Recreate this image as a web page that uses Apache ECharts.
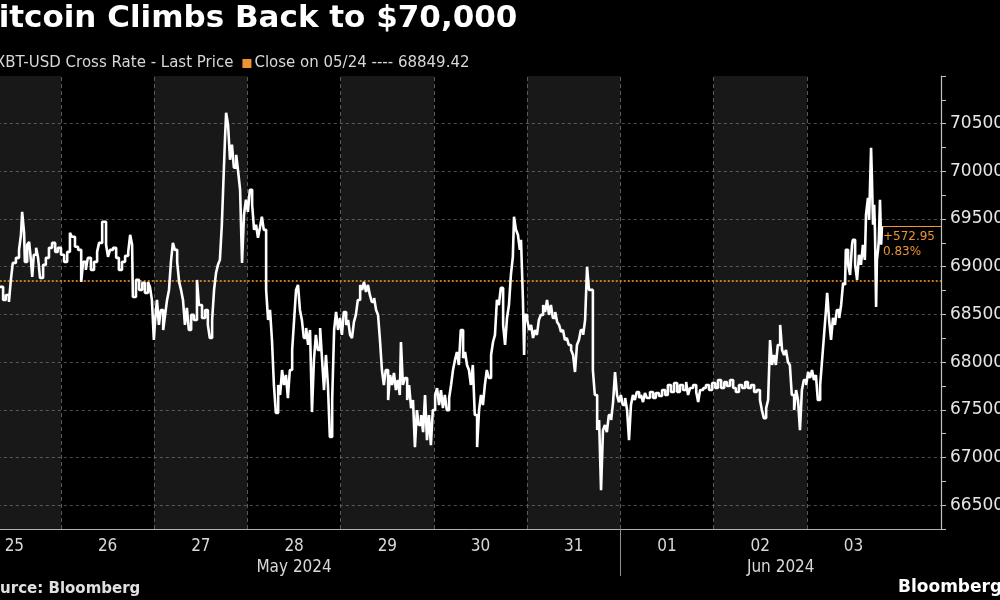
<!DOCTYPE html>
<html>
<head>
<meta charset="utf-8">
<script src="https://cdn.jsdelivr.net/npm/echarts@6.0.0/dist/echarts.min.js"></script>
<style>
html,body{margin:0;padding:0;background:#000;}
#chart{width:1000px;height:600px;}
</style>
</head>
<body>
<div id="chart"></div>
<script>
// Hours since 2024-05-25 00:00
const hours = [
8.3,9.1,9.8,10.6,11.1,11.6,12.4,13.2,13.7,14.0,14.5,14.7,15.3,15.8,16.3,16.6,17.0,17.6,18.1,18.6,19.4,20.1,20.9,21.7,22.5,23.2,24.0,24.8,25.6,26.3,26.8,27.6,28.4,29.2,29.7,30.4,30.9,31.7,32.5,33.3,33.8,34.6,35.1,35.6,36.1,36.6,37.4,38.2,38.9,39.7,40.5,41.3,41.8,42.3,42.5,43.3,44.1,44.9,45.6,46.4,
46.9,47.4,47.9,48.2,48.7,49.2,49.7,50.3,50.8,51.3,51.8,52.3,52.8,53.3,53.9,54.4,54.9,55.4,55.9,56.4,56.9,57.5,58.2,59.0,59.5,60.3,61.1,61.8,62.3,62.9,63.4,63.9,64.4,64.9,65.4,65.7,66.2,66.5,67.0,67.5,68.0,68.5,69.1,69.6,70.1,70.6,71.1,71.6,72.1,72.6,73.2,73.7,74.2,74.7,75.2,75.7,76.2,76.8,77.3,77.8,78.3,78.8,79.3,79.9,80.4,80.9,81.4,81.9,82.4,82.9,
83.5,84.0,84.5,85.0,85.5,86.0,86.5,87.1,87.6,88.1,88.6,89.1,89.6,90.1,90.7,91.2,91.7,92.2,92.7,93.2,93.8,94.3,94.8,95.3,95.8,96.3,96.8,97.4,97.9,98.4,98.9,99.4,99.9,100.4,101.0,101.5,102.0,102.5,103.0,103.5,104.0,104.6,105.1,105.6,106.1,106.6,107.1,107.6,108.2,108.7,109.2,109.7,110.2,110.7,111.2,111.5,112.0,112.5,113.1,113.6,114.1,114.6,115.1,115.6,116.1,116.7,117.2,117.7,118.2,118.7,119.2,119.7,120.3,
120.8,121.3,121.8,122.3,122.8,123.3,123.9,124.4,124.9,125.4,125.9,126.4,126.9,127.5,128.0,128.5,129.0,129.5,130.0,130.5,131.1,131.6,132.1,132.6,133.1,133.6,134.1,134.7,135.2,135.7,136.2,136.7,137.2,137.8,138.3,138.8,139.3,139.8,140.3,140.6,141.1,141.6,142.1,142.4,142.9,143.2,143.4,144.0,144.5,145.0,145.5,146.0,146.5,147.0,147.5,148.1,148.6,149.1,149.6,150.1,150.6,151.2,151.7,152.2,152.7,153.2,153.7,154.2,154.7,155.3,155.8,156.3,156.8,157.3,157.8,
158.4,158.9,159.4,159.9,160.4,160.9,161.4,162.0,162.5,163.0,163.5,164.0,164.5,165.0,165.6,166.1,166.6,167.1,167.6,168.1,168.6,169.2,169.7,170.2,170.7,171.2,171.7,172.2,172.8,173.3,173.8,174.3,174.8,175.6,176.4,177.1,177.9,178.7,179.5,180.2,181.0,181.8,182.6,183.3,184.1,184.9,185.4,185.9,186.7,187.5,188.0,188.5,189.3,190.0,190.8,191.6,192.4,193.1,193.9,194.7,195.4,196.2,197.0,
197.7,198.5,199.3,200.1,200.8,201.6,202.4,203.1,203.9,204.4,204.9,205.5,206.0,206.5,207.0,207.5,208.0,208.5,209.1,209.6,210.1,210.6,211.1,211.6,212.1,212.7,213.2,213.7,214.2,214.7,215.2,215.8,216.3,216.8,217.3,217.8,218.3,218.8,219.4,219.9,220.4,220.9,221.2,221.7,222.2,222.7,223.2,223.7,224.3,224.8,225.3,225.8,226.0,226.6,227.1,227.6,227.8,228.4,228.9,229.4,229.9,230.4,230.9,231.2,231.7,232.0,232.5,232.7,233.0,233.3,233.5,233.8,234.0,234.3,234.5,234.8,235.1,235.3
];
const prices = [
68789,68652,68704,68631,68862,69040,69093,69177,69335,69576,69356,69051,69230,69261,69051,68894,69125,69198,69093,68883,69020,69093,69198,69250,69156,69198,69125,69051,69156,69356,69314,69209,69177,68841,69051,68967,69093,68967,69051,69156,69250,69471,69471,69230,69104,69177,69198,69093,68967,69051,69114,69156,69335,69230,68683,68862,68757,68831,68726,68841,
68789,68652,68232,68421,68652,68390,68547,68337,68495,68652,68757,69051,69250,69177,69051,68841,68757,68652,68390,68568,68337,68495,68442,68862,68599,68463,68547,68390,68253,68442,68757,68935,69020,69072,69440,69776,70332,70615,70489,70122,70280,70038,70174,69996,69807,69040,69545,69702,69576,69807,69650,69387,69440,69303,69408,69524,69387,68757,68442,68547,68232,67760,67466,67760,67655,67917,67760,67865,67623,67917,
68127,68442,68757,68809,68547,68442,68253,68358,68180,68337,67476,68022,68285,68127,68358,68022,67707,68075,67760,67214,67602,68337,68526,68337,68463,68285,68526,68390,68442,68285,68253,68421,68495,68652,68809,68757,68841,68736,68809,68704,68631,68673,68547,68495,68232,67917,67760,67917,67602,67865,67760,67886,67707,67812,67655,68211,67760,67833,67602,67760,67518,67602,67109,67497,67340,67445,67266,67655,67182,67445,67130,67497,67655,
67728,67550,67707,67518,67655,67497,67623,67760,67917,68022,68106,67970,68337,68043,68106,67970,67917,67760,67970,67445,67109,67497,67655,67550,67760,67917,67833,68075,68211,68285,68652,68599,68778,68390,68180,68463,68599,68914,69104,69524,69387,69335,69177,69282,68652,68075,68495,68442,68337,68390,68253,68337,68285,68442,68495,68599,68526,68652,68495,68599,68463,68526,68421,68390,68316,68337,68232,68253,68180,68127,68075,67896,68180,68232,68337,
68285,68442,68998,68757,68757,67917,67655,67287,67392,66657,67287,67340,67266,67445,67392,67581,67896,67655,67581,67655,67550,67623,67497,67182,67550,67655,67602,67686,67623,67655,67581,67676,67623,67686,67623,67676,67644,67707,67655,67760,67686,67781,67686,67760,67707,67791,67655,67728,67760,67686,67581,67707,67728,67760,67707,67781,67728,67812,67728,67791,67749,67812,67728,
67686,67760,67728,67791,67728,67760,67686,67707,67602,67497,67413,67518,67602,68232,67970,68075,67970,68180,68390,68127,68075,68127,68001,67970,67655,67497,67707,67602,67287,67707,67812,67760,67896,67833,67917,67812,67865,67602,67760,68022,68285,68547,68726,68442,68232,68463,68390,68547,68463,68599,68831,68809,69177,69020,68914,69230,69282,69020,68862,69125,69020,69230,69072,69545,69723,69492,70248,69965,69440,69650,69387,68579,69072,69177,69282,69702,69230,69422.37
];
const dayLabels = ['25','26','27','28','29','30','31','01','02','03'];
const monthLabels = ['May 2024','Jun 2024'];
const yLabelValues = [66500,67000,67500,68000,68500,69000,69500,70000,70500];
const closePrice = 68849.42;
const changeText = '+572.95';
const changePct = '0.83%';
const seriesName = 'XBT-USD Cross Rate - Last Price';
const closeName = 'Close on 05/24 ---- 68849.42';

const X_MIN = 0, X_MAX = 250.5;
const ORANGE = '#ee9430';
const lastH = hours[hours.length - 1];
const lastP = prices[prices.length - 1];

const dayCenters = dayLabels.map((_, i) => 12 + 24 * i);
const monthBounds = [[0, 168], [168, X_MAX]];
const monthCenters = monthBounds.map(b => (b[0] + b[1]) / 2);
const shadedBands = [];
for (let i = 0; i < 9; i += 2) shadedBands.push([{xAxis: 24 * i}, {xAxis: 24 * (i + 1)}]);
const dayLines = [];
for (let i = 1; i <= 9; i++) dayLines.push({xAxis: 24 * i, lineStyle: {type: [4, 3], color: '#5a5a5a', width: 1}});

const chart = echarts.init(document.getElementById('chart'));
const FONT = 'DejaVu Sans';
chart.setOption({
  backgroundColor: '#000',
  animation: false,
  title: [
    {text: 'Bitcoin Climbs Back to $70,000', left: -25, top: 3, padding: 0,
     textStyle: {color: '#fff', fontSize: 31, fontWeight: 'bold', fontFamily: FONT}},
    {text: 'Source: Bloomberg', left: -21, top: 582, padding: 0,
     textStyle: {color: '#e0e0e0', fontSize: 15, fontWeight: 'bold', fontFamily: FONT}},
    {text: 'Bloomberg', left: 898, top: 579, padding: 0,
     textStyle: {color: '#fff', fontSize: 17, fontWeight: 'bold', fontFamily: FONT}}
  ],
  legend: {
    left: -17, top: 56, padding: 0, itemGap: 9, itemWidth: 9, itemHeight: 9,
    icon: 'rect', selectedMode: false,
    textStyle: {color: '#d8d8d8', fontSize: 15, fontFamily: FONT, padding: [0, 0, 0, -2]},
    data: [{name: seriesName, itemStyle: {color: '#fff'}}, {name: closeName, itemStyle: {color: ORANGE}}]
  },
  grid: {left: -32.25, right: 59, top: 76, bottom: 71, containLabel: false, outerBoundsMode: 'none'},
  xAxis: [
    {type: 'value', min: X_MIN, max: X_MAX, position: 'bottom',
     axisLine: {show: true, onZero: false, lineStyle: {color: '#b0b0b0', width: 1}},
     axisTick: {show: true, customValues: [168], length: 47, lineStyle: {color: '#909090'}},
     axisLabel: {customValues: dayCenters, formatter: v => dayLabels[Math.round((v - 12) / 24)],
       color: '#d8d8d8', fontSize: 17, fontFamily: 'DejaVu Sans Condensed', margin: 9},
     splitLine: {show: false}},
    {type: 'value', min: X_MIN, max: X_MAX, position: 'bottom', offset: 21,
     axisLine: {show: false}, axisTick: {show: false},
     axisLabel: {customValues: monthCenters, formatter: v => monthLabels[monthCenters.indexOf(v)],
       color: '#d8d8d8', fontSize: 17, fontFamily: 'DejaVu Sans Condensed', margin: 9},
     splitLine: {show: false}}
  ],
  yAxis: {
    type: 'value', position: 'right', min: 66250, max: 71000, interval: 250,
    axisLine: {show: true, onZero: false, lineStyle: {color: '#c0c0c0', width: 1.2}},
    axisTick: {show: true, length: 5, lineStyle: {color: '#c0c0c0'}},
    axisLabel: {customValues: yLabelValues, formatter: v => String(v),
      color: '#e6e6e6', fontSize: 17, fontFamily: FONT, margin: 9},
    splitLine: {show: true, showMaxLine: false,
      lineStyle: {color: ['rgba(0,0,0,0)', '#4c4c4c'], type: [3, 3], width: 1}}
  },
  series: [
    {
      name: seriesName, type: 'line', z: 10,
      data: hours.map((h, i) => [h, prices[i]]),
      showSymbol: false, step: 'end',
      lineStyle: {color: '#ffffff', width: 2.6},
      itemStyle: {color: '#fff'},
      markArea: {silent: true, itemStyle: {color: 'rgba(255,255,255,0.095)'}, data: shadedBands},
      markLine: {
        silent: true, symbol: ['none', 'none'],
        label: {show: false},
        data: dayLines.concat([
          {yAxis: closePrice, lineStyle: {type: [2, 2], color: ORANGE, width: 1.6}},
          [{coord: [lastH, lastP], lineStyle: {type: 'solid', color: ORANGE, width: 1},
            label: {show: true, position: 'insideStartBottom', formatter: changeText + '\n' + changePct,
              color: ORANGE, fontSize: 12, fontFamily: FONT, lineHeight: 15, distance: [1, 3], align: 'left'}},
           {coord: [X_MAX, lastP]}]
        ])
      }
    },
    {name: closeName, type: 'line', data: [], itemStyle: {color: ORANGE}, lineStyle: {color: ORANGE}}
  ]
});
</script>
</body>
</html>
